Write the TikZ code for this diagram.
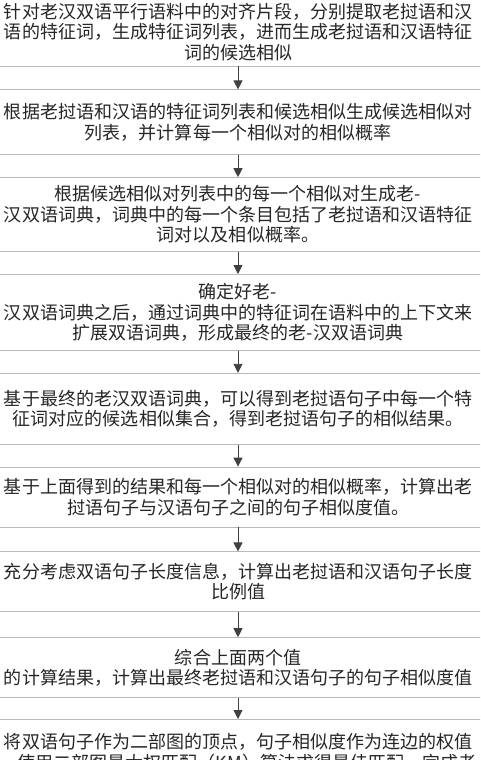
\documentclass[tikz,border=0pt]{standalone}
\usepackage{fontspec}
\setmainfont{Noto Sans CJK SC}
\usetikzlibrary{positioning,arrows.meta}
\tikzset{
    procbox/.style={draw=gray!55,line width=0.8pt,minimum width=540pt,align=center,inner sep=0pt,text=black!85,font=\fontsize{18}{20.5}\selectfont},
    flowarrow/.style={draw=black!75,line width=0.9pt,-{Triangle[length=9pt,width=9pt]}}
}
\begin{document}
\begin{tikzpicture}
    \useasboundingbox (0,0) rectangle (480pt,-760pt);
    \clip (0,0) rectangle (480pt,-760pt);
    \node[procbox,minimum height=68pt] (s1) at (238pt,-32pt) {针对老汉双语平行语料中的对齐片段，分别提取老挝语和汉\\语的特征词，生成特征词列表，进而生成老挝语和汉语特征\\词的候选相似};
    \node[procbox,minimum height=65pt,below=23pt of s1] (s2) {根据老挝语和汉语的特征词列表和候选相似生成候选相似对\\列表，并计算每一个相似对的相似概率};
    \node[procbox,minimum height=74pt,below=22pt of s2] (s3) {根据候选相似对列表中的每一个相似对生成老-\\汉双语词典，词典中的每一个条目包括了老挝语和汉语特征\\词对以及相似概率。};
    \node[procbox,minimum height=76pt,below=22pt of s3] (s4) {确定好老-\\汉双语词典之后，通过词典中的特征词在语料中的上下文来\\扩展双语词典，形成最终的老-汉双语词典};
    \node[procbox,minimum height=71pt,below=22pt of s4] (s5) {基于最终的老汉双语词典，可以得到老挝语句子中每一个特\\征词对应的候选相似集合，得到老挝语句子的相似结果。};
    \node[procbox,minimum height=60pt,below=22pt of s5] (s6) {基于上面得到的结果和每一个相似对的相似概率，计算出老\\挝语句子与汉语句子之间的句子相似度值。};
    \node[procbox,minimum height=60pt,below=24pt of s6] (s7) {充分考虑双语句子长度信息，计算出老挝语和汉语句子长度\\比例值};
    \node[procbox,minimum height=60pt,below=25pt of s7] (s8) {综合上面两个值\\的计算结果，计算出最终老挝语和汉语句子的句子相似度值};
    \node[procbox,minimum height=66pt,below=21pt of s8] (s9) {将双语句子作为二部图的顶点，句子相似度作为连边的权值\\，使用二部图最大权匹配（KM）算法求得最佳匹配，完成老};
    \foreach \a/\b in {s1/s2,s2/s3,s3/s4,s4/s5,s5/s6,s6/s7,s7/s8,s8/s9}
        \draw[flowarrow] (\a) -- (\b);
\end{tikzpicture}
\end{document}
